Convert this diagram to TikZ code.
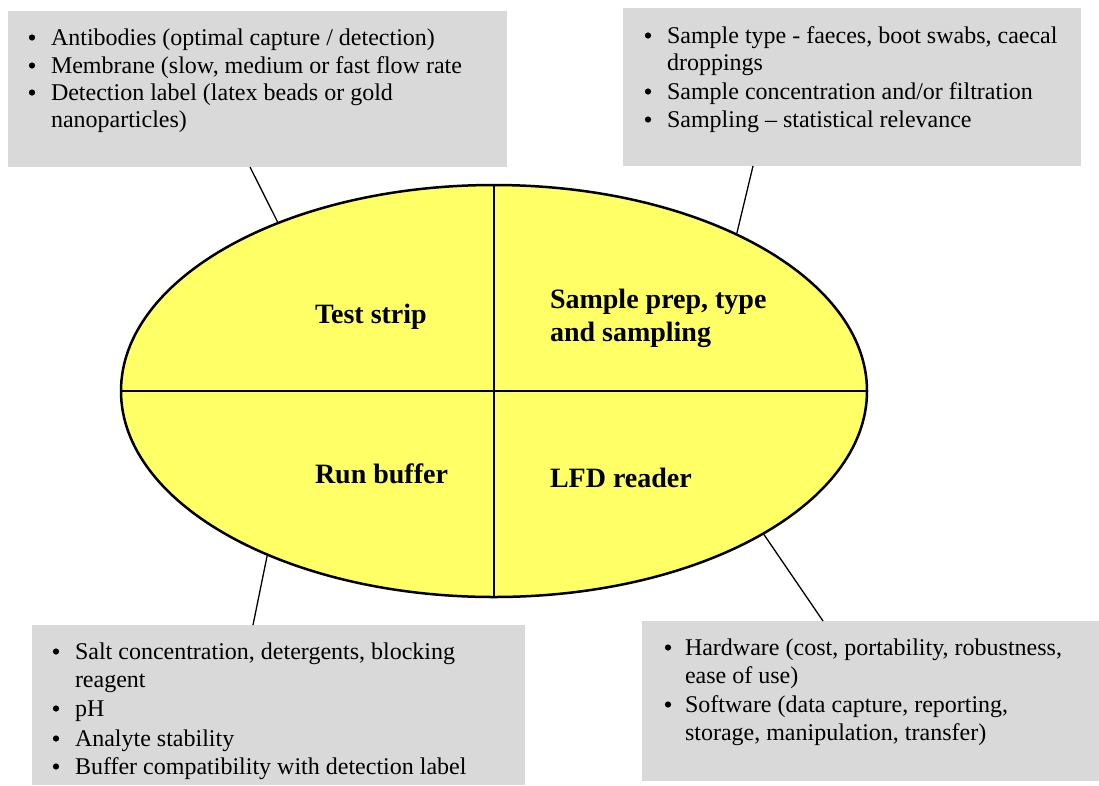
\documentclass[tikz,border=0pt]{standalone}
\usepackage{fontspec}
\setmainfont{Liberation Serif}
\usetikzlibrary{shapes.geometric,calc}
\definecolor{boxgray}{RGB}{217,217,217}
\definecolor{ellyellow}{RGB}{255,255,102}
\begin{document}
\begin{tikzpicture}[x=1pt,y=-1pt,
  graybox/.style={fill=boxgray, draw=none, anchor=north west, inner sep=0pt, outer sep=0pt},
  itm/.style={anchor=base west, inner sep=0pt, outer sep=0pt, font=\fontsize{24}{27}\selectfont},
  lbl/.style={anchor=base west, inner sep=0pt, outer sep=0pt, font=\fontsize{28}{33}\selectfont\bfseries},
  bulletdot/.style={fill=black},
  conn/.style={line width=1.3pt},
  divider/.style={line width=2pt},
  bigell/.style={ellipse, draw, fill=ellyellow, line width=2.5pt, inner sep=0pt,
                 minimum width=746pt, minimum height=412pt}]
\useasboundingbox (0,0) rectangle (1099,785);

% grey boxes
\node[graybox, minimum width=499pt, minimum height=156pt] (tl) at (8,11) {};
\node[graybox, minimum width=458pt, minimum height=158pt] (tr) at (623,8) {};
\node[graybox, minimum width=493pt, minimum height=160pt] (bl) at (32,625) {};
\node[graybox, minimum width=457pt, minimum height=160pt] (br) at (642,621) {};

% ellipse
\node[bigell] (ell) at (494,391) {};

% connectors
\draw[conn] ($(tl.south west)+(242,0)$) -- (ell.142.26);
\draw[conn] ($(tr.south west)+(130,0)$) -- (ell.33.19);
\draw[conn] ($(bl.north west)+(221,0)$) -- (ell.216.79);
\draw[conn] ($(br.north west)+(181,0)$) -- (ell.332.26);

% dividers
\draw[divider] (ell.north) -- (ell.south);
\draw[divider] (ell.west) -- (ell.east);

% quadrant labels
\node[lbl] (lts) at (315,323) {Test strip};
\node[lbl] (lsp1) at (550,308) {Sample prep, type};
\node[lbl] (lsp2) at (550,341) {and sampling};
\node[lbl] (lrb) at (315,483) {Run buffer};
\node[lbl] (llfd) at (550,487) {LFD reader};

% top-left list
\node[itm] (tl1) at (51,45) {Antibodies (optimal capture / detection)};
\node[itm] (tl2) at (51,73) {Membrane (slow, medium or fast flow rate};
\node[itm] (tl3) at (51,100) {Detection label (latex beads or gold};
\node[itm] (tl4) at (51,127) {nanoparticles)};
\foreach \n in {tl1,tl2,tl3}
  \fill[bulletdot] ($(\n.base west)+(-19,-7.5)$) circle (3.1pt);

% top-right list
\node[itm] (tr1) at (667,43) {Sample type - faeces, boot swabs, caecal};
\node[itm] (tr2) at (667,70) {droppings};
\node[itm] (tr3) at (667,99) {Sample concentration and/or filtration};
\node[itm] (tr4) at (667,127) {Sampling – statistical relevance};
\foreach \n in {tr1,tr3,tr4}
  \fill[bulletdot] ($(\n.base west)+(-19,-7.5)$) circle (3.1pt);

% bottom-left list
\node[itm] (bl1) at (75,659) {Salt concentration, detergents, blocking};
\node[itm] (bl2) at (75,687) {reagent};
\node[itm] (bl3) at (75,716) {pH};
\node[itm] (bl4) at (75,746) {Analyte stability};
\node[itm] (bl5) at (75,774) {Buffer compatibility with detection label};
\foreach \n in {bl1,bl3,bl4,bl5}
  \fill[bulletdot] ($(\n.base west)+(-19,-7.5)$) circle (3.1pt);

% bottom-right list
\node[itm] (br1) at (685,655) {Hardware (cost, portability, robustness,};
\node[itm] (br2) at (685,683) {ease of use)};
\node[itm] (br3) at (685,712) {Software (data capture, reporting,};
\node[itm] (br4) at (685,740) {storage, manipulation, transfer)};
\foreach \n in {br1,br3}
  \fill[bulletdot] ($(\n.base west)+(-17,-7.5)$) circle (3.1pt);
\end{tikzpicture}
\end{document}
